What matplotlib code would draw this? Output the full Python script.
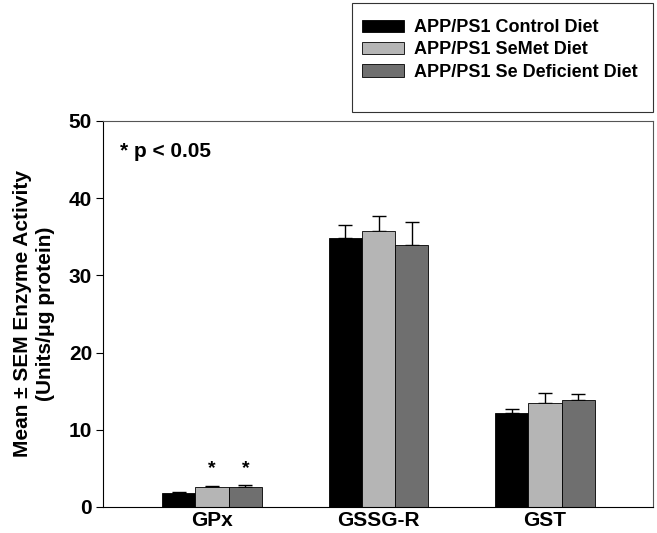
import numpy as np
import matplotlib.pyplot as plt
from matplotlib.patches import Rectangle

enzymes = ['GPx', 'GSSG-R', 'GST']
diets = ['APP/PS1 Control Diet', 'APP/PS1 SeMet Diet', 'APP/PS1 Se Deficient Diet']
means = {
    'APP/PS1 Control Diet': [1.8, 34.9, 12.2],
    'APP/PS1 SeMet Diet': [2.6, 35.7, 13.4],
    'APP/PS1 Se Deficient Diet': [2.6, 33.9, 13.8],
}
sems = {
    'APP/PS1 Control Diet': [0.1, 1.6, 0.5],
    'APP/PS1 SeMet Diet': [0.1, 2.0, 1.3],
    'APP/PS1 Se Deficient Diet': [0.3, 3.0, 0.8],
}
colors = ['#000000', '#b5b5b5', '#6f6f6f']
# significance marks: (enzyme index, diet index)
signif = [(0, 1), (0, 2)]
star_y = 5.0

plt.rcParams['font.family'] = ['Liberation Sans', 'DejaVu Sans']
plt.rcParams['font.weight'] = 'bold'

fig = plt.figure(figsize=(6.57, 5.33), dpi=100)
ax = fig.add_axes([0.157, 0.049, 0.837, 0.724])

x = np.arange(len(enzymes))
w = 0.2
for i, d in enumerate(diets):
    pos = x + (i - 1) * w
    ax.bar(pos, means[d], w, color=colors[i], edgecolor='black', linewidth=0.6,
           label=d, zorder=2)
    ax.errorbar(pos, means[d], yerr=[np.zeros(len(enzymes)), sems[d]], fmt='none',
                ecolor='black', elinewidth=1.0, capsize=5, capthick=1.0, zorder=1)

for e, di in signif:
    ax.text(x[e] + (di - 1) * w, star_y, '*', ha='center', va='center',
            fontsize=14, fontweight='bold')

ax.text(0.03, 0.92, '* p < 0.05', transform=ax.transAxes, fontsize=15,
        fontweight='bold', ha='left', va='center')

ax.set_xlim(-0.655, 2.65)
ax.set_ylim(0, 50)
ax.set_yticks([0, 10, 20, 30, 40, 50])
ax.set_xticks(x)
ax.set_xticklabels(enzymes, fontsize=15, fontweight='bold')
ax.tick_params(axis='x', length=0, pad=3)
ax.tick_params(axis='y', labelsize=15, length=5, direction='out', pad=3)
for lab in ax.get_yticklabels():
    lab.set_fontweight('bold')
ax.set_ylabel('Mean \u00b1 SEM Enzyme Activity\n(Units/\u03bcg protein)', fontsize=15,
              fontweight='bold', labelpad=10, linespacing=1.25)
for s in ['top', 'right']:
    ax.spines[s].set_color('#555555')
    ax.spines[s].set_linewidth(0.8)

# legend box with blank space below entries
fig.patches.append(Rectangle((352 / 657, 1 - 112 / 533), 301 / 657, 109 / 533,
                             transform=fig.transFigure, fill=False,
                             edgecolor='#333333', linewidth=0.8))
handles, labels = ax.get_legend_handles_labels()
fig.legend(handles, labels, loc='upper left', bbox_to_anchor=(362 / 657, 1 - 19 / 533),
           frameon=False, prop={'weight': 'bold', 'size': 13},
           handlelength=2.3, handleheight=0.65, handletextpad=0.6, labelspacing=0.3,
           borderaxespad=0, borderpad=0)

fig.savefig('out.png', dpi=100)
